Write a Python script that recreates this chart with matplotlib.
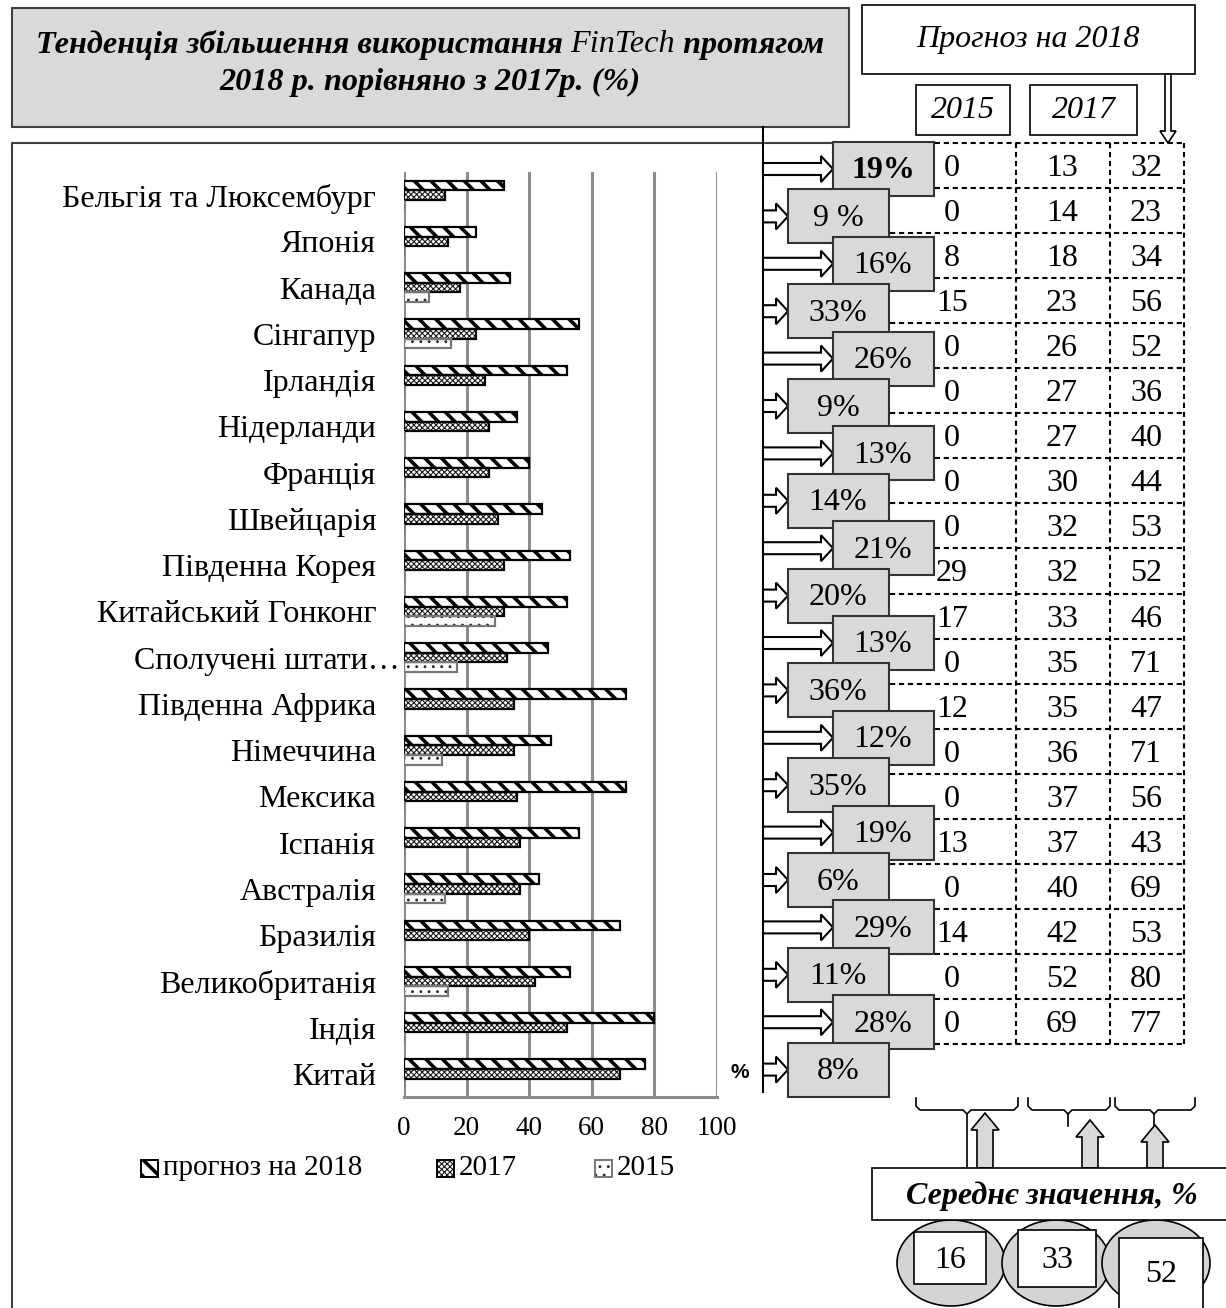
import matplotlib
matplotlib.use('Agg')
from matplotlib import pyplot as plt
from matplotlib.patches import Rectangle, Polygon, Ellipse
import matplotlib.transforms as mtransforms
import numpy as np

# ---- data ----
countries = ['Бельгія та Люксембург', 'Японія', 'Канада', 'Сінгапур',
             'Ірландія', 'Нідерланди', 'Франція', 'Швейцарія',
             'Південна Корея', 'Китайський Гонконг', 'Сполучені штати…',
             'Південна Африка', 'Німеччина', 'Мексика', 'Іспанія',
             'Австралія', 'Бразилія', 'Великобританія', 'Індія', 'Китай']
val_2015 = [0, 0, 8, 15, 0, 0, 0, 0, 0, 29, 17, 0, 12, 0, 0, 13, 0, 14, 0, 0]
val_2017 = [13, 14, 18, 23, 26, 27, 27, 30, 32, 32, 33, 35, 35, 36, 37, 37,
            40, 42, 52, 69]
val_2018 = [32, 23, 34, 56, 52, 36, 40, 44, 53, 52, 46, 71, 47, 71, 56, 43,
            69, 53, 80, 77]
growth_labels = ['19%', '9 %', '16%', '33%', '26%', '9%', '13%', '14%', '21%',
                 '20%', '13%', '36%', '12%', '35%', '19%', '6%', '29%', '11%',
                 '28%', '8%']
mean_vals = [16, 33, 52]
x_ticks = [0, 20, 40, 60, 80, 100]
legend_labels = ['прогноз на 2018', '2017', '2015']

plt.rcParams['font.family'] = ['Liberation Serif', 'DejaVu Serif']

W, H = 1226, 1308
FS = 23  # main text size
fig = plt.figure(figsize=(W / 100, H / 100), dpi=100)


def fig_rect(x0, y0, x1, y1):
    # pixel box (top-left origin) -> figure fraction
    return [x0 / W, 1 - y1 / H, (x1 - x0) / W, (y1 - y0) / H]


# ---- bar chart ----
ax = fig.add_axes(fig_rect(404, 172, 717, 1097))
y = np.arange(len(countries))
bh = 0.21

# hatch styles: (hatch, hatch colour, hatch width, edge colour)
styles = [('\\\\', 'black', 2.6, 'black'),
          ('xxxxxx', '#1a1a1a', 0.8, 'black'),
          ('..', '#222222', 0.8, '#777777')]


def hatched(draw, style):
    hatch, hcol, hlw, edge = style
    with plt.rc_context({'hatch.linewidth': hlw}):
        arts = draw(facecolor='white', edgecolor=hcol, hatch=hatch,
                    linewidth=0)
    for a in np.atleast_1d(arts):
        if hasattr(a, 'set_hatch_linewidth'):
            a.set_hatch_linewidth(hlw)
    return arts


series = [val_2018, val_2017, val_2015]
offsets = [-bh, 0, bh]
for vals, off, st in zip(series, offsets, styles):
    hatched(lambda **kw: ax.barh(y + off, vals, height=bh, zorder=3, **kw), st)
    ax.barh(y + off, vals, height=bh, fill=False, edgecolor=st[3],
            linewidth=1.6, zorder=4)

ax.set_xlim(0, 100)
ax.set_ylim(len(countries) - 0.5, -0.5)
ax.set_xticks(x_ticks)
ax.set_xticklabels([str(t) for t in x_ticks], fontsize=19.5)
ax.set_yticks(y)
ax.set_yticklabels(countries, fontsize=FS)
ax.tick_params(length=0)
ax.tick_params(axis='y', pad=20)
ax.tick_params(axis='x', pad=14)
ax.grid(axis='x', color='#8c8c8c', linewidth=2.2)
ax.set_axisbelow(True)
for s in ['top', 'right', 'left']:
    ax.spines[s].set_visible(False)
ax.spines['bottom'].set_color('#8c8c8c')
ax.spines['bottom'].set_linewidth(2.2)
# the long US label sticks out a bit to the right
us_lab = ax.get_yticklabels()[10]
us_lab.set_transform(us_lab.get_transform() +
                     mtransforms.ScaledTranslation(0.24, 0, fig.dpi_scale_trans))

# ---- decoration layer in pixel coords ----
dx = fig.add_axes([0, 0, 1, 1])
dx.set_xlim(0, W)
dx.set_ylim(H, 0)
dx.axis('off')

# title box
dx.add_patch(Rectangle((12, 8), 837, 119, facecolor='#d9d9d9',
                       edgecolor='#404040', linewidth=1.5))
r = fig.canvas.get_renderer()
pieces = [('Тенденція збільшення використання ', 'bold'), ('FinTech', 'normal'),
          (' протягом', 'bold')]
tparts = [dx.text(0, 45, s, fontsize=23.2, style='italic', weight=w,
                  va='center', ha='left') for s, w in pieces]
widths = [t.get_window_extent(r).width for t in tparts]
xpos = 430 - sum(widths) / 2
for t, w in zip(tparts, widths):
    t.set_x(xpos)
    xpos += w
dx.text(430, 82, '2018 р. порівняно з 2017р. (%)', fontsize=23.2,
        style='italic', weight='bold', ha='center', va='center')

# frame of chart and connector line
dx.plot([12, 12, 834], [H, 143, 143], color='#404040', linewidth=1.5)
dx.plot([763, 763], [127, 1092], color='black', linewidth=1.5)

# header boxes
dx.add_patch(Rectangle((862, 5), 333, 69, facecolor='white',
                       edgecolor='black', linewidth=1.2))
dx.text(1028, 40, 'Прогноз на 2018', fontsize=FS, style='italic',
        ha='center', va='center')
for x0, w, lab in [(916, 94, '2015'), (1030, 107, '2017')]:
    dx.add_patch(Rectangle((x0, 85), w, 50, facecolor='white',
                           edgecolor='black', linewidth=1.2))
    dx.text(x0 + w / 2, 110, lab, fontsize=FS, style='italic',
            ha='center', va='center')
# small down arrow from the forecast header
ax_x = 1168
dx.add_patch(Polygon([(ax_x - 3, 74), (ax_x + 3, 74), (ax_x + 3, 131),
                      (ax_x + 8, 131), (ax_x, 143), (ax_x - 8, 131),
                      (ax_x - 3, 131)], closed=True, facecolor='white',
                     edgecolor='black', linewidth=1.2))

# dashed table
row_lines = 143 + np.arange(21) * 45.05
for yl in row_lines:
    dx.plot([890, 1184], [yl, yl], color='black', linewidth=1.5,
            linestyle=(0, (2.5, 1.8)), zorder=1)
for xl in [1016, 1110, 1184]:
    dx.plot([xl, xl], [143, row_lines[-1]], color='black', linewidth=1.5,
            linestyle=(0, (2.5, 1.8)), zorder=1)
col_x = [952, 1062, 1146]
for k in range(len(countries)):
    yc = (row_lines[k] + row_lines[k + 1]) / 2
    for cx, vals in zip(col_x, [val_2015, val_2017, val_2018]):
        dx.text(cx, yc + 3, str(vals[k]), fontsize=FS, ha='center',
                va='center', zorder=2)


def harrow(x0, x1, yc):
    sh, hh, hl = 6, 13, 12
    xb = x1 - hl
    pts = [(x0, yc - sh), (xb, yc - sh), (xb, yc - hh), (x1, yc),
           (xb, yc + hh), (xb, yc + sh), (x0, yc + sh)]
    dx.add_patch(Polygon(pts, closed=True, facecolor='white',
                         edgecolor='black', linewidth=1.5, zorder=2))


# growth boxes with arrows
for i, lab in enumerate(growth_labels):
    yc = 169 + i * 47.4
    x0 = 833 if i % 2 == 0 else 788
    harrow(763, x0, yc)
    dx.add_patch(Rectangle((x0, yc - 27), 101, 54, facecolor='#d9d9d9',
                           edgecolor='#333333', linewidth=1.5, zorder=3))
    dx.text(x0 + 50, yc + 2, lab, fontsize=FS, ha='center', va='center',
            weight='bold' if i == 0 else 'normal', zorder=4)

dx.text(740, 1073, '%', fontsize=15, weight='bold', ha='center', va='center',
        family=['Liberation Sans', 'DejaVu Sans'])

# legend
leg_x = [141, 437, 595]
for lx, lab, st in zip(leg_x, legend_labels, styles):
    hatched(lambda **kw: dx.add_patch(Rectangle((lx, 1160), 17, 17, **kw)),
            st)
    dx.add_patch(Rectangle((lx, 1160), 17, 17, fill=False, edgecolor=st[3],
                           linewidth=1.4))
    dx.text(lx + 22, 1168, lab, fontsize=21, ha='left', va='center')


# braces under the table
def brace(xa, xb, xt, y0=1098, y1=1110, y2=1126):
    bx = [xa, xa, xa + 4, xt - 4, xt, xt]
    by = [y0, y1 - 4, y1, y1, y1 + 4, y2]
    dx.plot(bx, by, color='black', linewidth=1.2)
    bx = [xt, xt + 4, xb - 4, xb, xb]
    by = [y1 + 4, y1, y1, y1 - 4, y0]
    dx.plot(bx, by, color='black', linewidth=1.2)


brace(916, 1018, 967, y2=1168)
brace(1028, 1110, 1068)
brace(1115, 1195, 1154)


def uparrow(xc, ytip, ybase=1168):
    sh, hh, hl = 8, 14, 17
    yb = ytip + hl
    pts = [(xc - sh, ybase), (xc - sh, yb), (xc - hh, yb), (xc, ytip),
           (xc + hh, yb), (xc + sh, yb), (xc + sh, ybase)]
    dx.add_patch(Polygon(pts, closed=True, facecolor='#d9d9d9',
                         edgecolor='black', linewidth=1.2))


uparrow(985, 1113)
uparrow(1090, 1120)
uparrow(1155, 1125)

# mean value box and circles
for cx in [951, 1056, 1156]:
    dx.add_patch(Ellipse((cx, 1263), 108, 86, facecolor='#d4d4d4',
                         edgecolor='black', linewidth=1.2, zorder=2))
dx.add_patch(Rectangle((872, 1168), 360, 52, facecolor='white',
                       edgecolor='black', linewidth=1.2, zorder=3))
dx.text(1052, 1196, 'Середнє значення, %', fontsize=FS, style='italic',
        weight='bold', ha='center', va='center', zorder=4)
mean_boxes = [(914, 1232, 72, 52), (1018, 1230, 78, 57), (1119, 1238, 84, 72)]
for (bx0, by0, bw, bhh), mv in zip(mean_boxes, mean_vals):
    dx.add_patch(Rectangle((bx0, by0), bw, bhh, facecolor='white',
                           edgecolor='black', linewidth=1.2, zorder=3))
    dx.text(bx0 + bw / 2, min(by0 + bhh / 2, 1272) + 2, str(mv), fontsize=FS,
            ha='center', va='center', zorder=4)

fig.savefig('out.png', dpi=100)
